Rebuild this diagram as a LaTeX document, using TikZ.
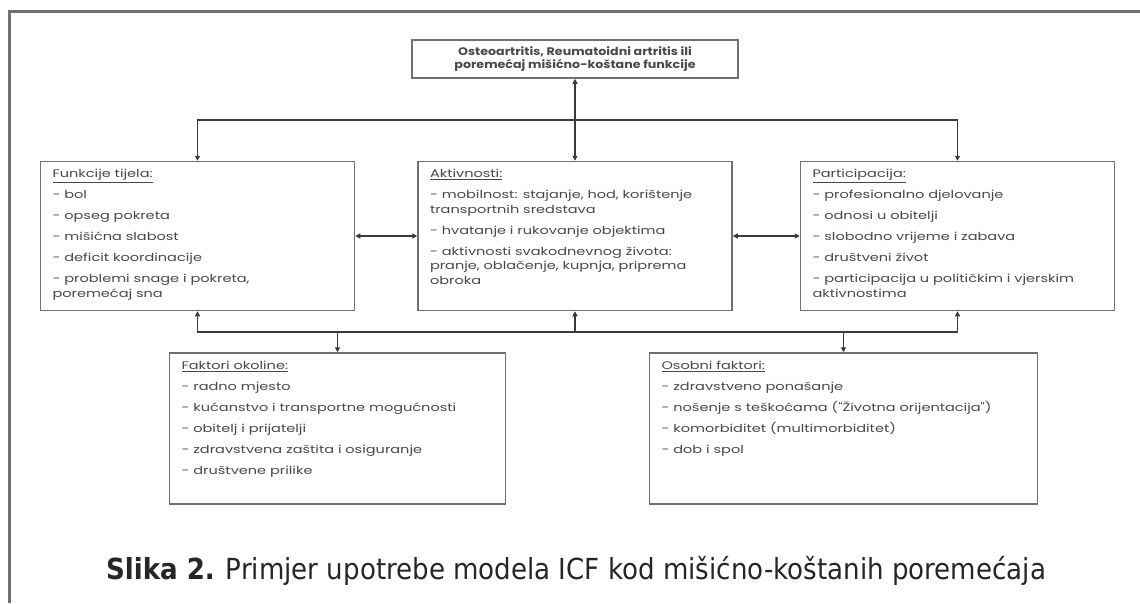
\documentclass[tikz,border=0pt]{standalone}
\usepackage{fontspec}
\usepackage{xcolor}
\usetikzlibrary{arrows.meta, positioning, calc}
\newfontfamily\boxfont[FakeStretch=1.32]{Poppins}
\newfontfamily\headfont[FakeStretch=1.15]{Poppins}
\newfontfamily\capfont[FakeStretch=0.9]{DejaVu Sans}
\definecolor{icftext}{HTML}{484848}
\definecolor{icfline}{HTML}{707070}
\definecolor{icfarrow}{HTML}{3A3A3A}
\newcommand{\icfbody}[3]{\begin{minipage}[c][#2][t]{#1}\boxfont\fontsize{11}{14.5}\selectfont\raggedright #3\end{minipage}}
\newcommand{\itemgap}{\par\vspace{6.5pt}}

\begin{document}
\begin{tikzpicture}[x=1pt, y=-1pt, >={Triangle[length=5pt, width=5pt]},
    box/.style={draw=icfline, line width=1.5pt, inner xsep=12pt, inner ysep=8pt, text=icftext},
    head/.style={draw=icfline, line width=1.5pt, minimum width=326pt, minimum height=38pt, align=center, inner sep=0pt,
      font=\headfont\bfseries\fontsize{11}{13}\selectfont, text=icftext},
    arr/.style={draw=icfarrow, line width=1.5pt, <->},
    frame/.style={draw=icfline, line width=3pt}]
  \useasboundingbox (0,0) rectangle (1140,603);
  \draw[frame] (9,603) -- (9,11) -- (1140,11);

  % stanje i tri sastavnice
  \node[head] (cond) at (575,59) {Osteoartritis, Reumatoidni artritis ili\\poremećaj mišićno-koštane funkcije};
  \node[box, below=82pt of cond] (akt) {\icfbody{290pt}{133pt}{\underline{Aktivnosti:}\itemgap
      - mobilnost: stajanje, hod, korištenje\newline transportnih sredstava\itemgap
      - hvatanje i rukovanje objektima\itemgap
      - aktivnosti svakodnevnog života:\newline pranje, oblačenje, kupnja, priprema\newline obroka}};
  \node[box, left=62pt of akt] (fun) {\icfbody{290pt}{133pt}{\underline{Funkcije tijela:}\itemgap
      - bol\itemgap
      - opseg pokreta\itemgap
      - mišićna slabost\itemgap
      - deficit koordinacije\itemgap
      - problemi snage i pokreta,\newline poremećaj sna}};
  \node[box, right=67pt of akt] (par) {\icfbody{290pt}{133pt}{\underline{Participacija:}\itemgap
      - profesionalno djelovanje\itemgap
      - odnosi u obitelji\itemgap
      - slobodno vrijeme i zabava\itemgap
      - društveni život\itemgap
      - participacija u političkim i vjerskim\newline aktivnostima}};

  % kontekstualni faktori
  \node[box, below=41pt of akt, xshift=-237.5pt] (oko) {\icfbody{312pt}{135pt}{\underline{Faktori okoline:}\itemgap
      - radno mjesto\itemgap
      - kućanstvo i transportne mogućnosti\itemgap
      - obitelj i prijatelji\itemgap
      - zdravstvena zaštita i osiguranje\itemgap
      - društvene prilike}};
  \node[box, below=41pt of akt, xshift=268.5pt] (oso) {\icfbody{364pt}{135pt}{\underline{Osobni faktori:}\itemgap
      - zdravstveno ponašanje\itemgap
      - nošenje s teškoćama ("Životna orijentacija")\itemgap
      - komorbiditet (multimorbiditet)\itemgap
      - dob i spol}};

  \coordinate (tb) at ($(cond.south)!0.5!(akt.north)$);
  \coordinate (bb) at ($(akt.south)!0.5!(oko.north -| akt.south)$);

  \draw[arr] (cond) -- (akt);
  \draw[arr] (fun.north) |- (tb) -| (par.north);
  \draw[arr] (fun) -- (akt);
  \draw[arr] (akt) -- (par);
  \draw[arr] (fun.south) |- (bb) -| (par.south);
  \draw[arr] (oko.north) |- (bb) -| (oso.north);
  \draw[arr, ->] (bb) -- (akt.south);

  \node[font=\capfont\fontsize{29}{33}\selectfont, text=black!85] (cap) at (576,571)
    {\textbf{Slika 2.} Primjer upotrebe modela ICF kod mišićno-koštanih poremećaja};
\end{tikzpicture}
\end{document}
